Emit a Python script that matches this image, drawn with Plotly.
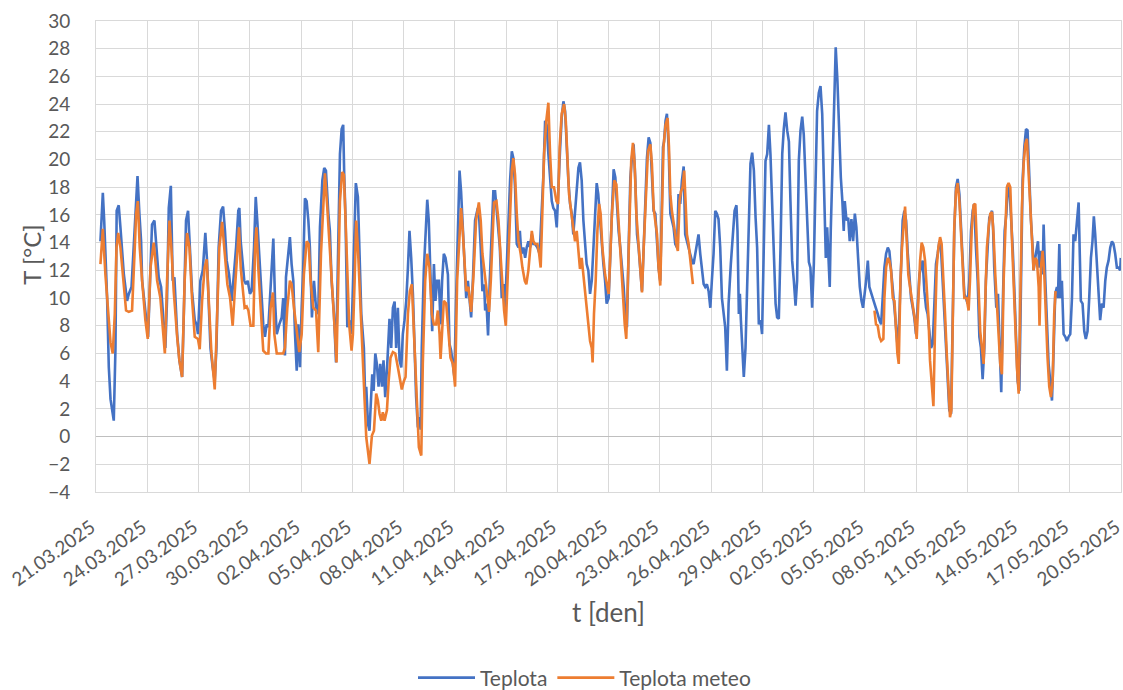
import pandas as pd
import plotly.graph_objects as go

START = pd.Timestamp("2025-03-21")
END = pd.Timestamp("2025-05-20")

# Measured air temperature: time in days since 21.03.2025 00:00, value in °C
t_teplota = [
    0.26, 0.40, 0.48, 0.65, 0.75, 0.85, 1.04, 1.14, 1.21, 1.33, 1.43, 1.63, 1.82, 1.92, 2.08, 2.21,
    2.31, 2.43, 2.54, 2.64, 2.70, 2.86, 2.93, 3.05, 3.19, 3.28, 3.42, 3.54, 3.67, 3.81, 3.97, 4.06,
    4.16, 4.26, 4.38, 4.49, 4.59, 4.75, 4.88, 5.04, 5.14, 5.27, 5.39, 5.49, 5.62, 5.78, 5.88, 5.97,
    6.11, 6.25, 6.40, 6.50, 6.60, 6.70, 6.83, 6.95, 7.05, 7.18, 7.32, 7.44, 7.55, 7.65, 7.79, 7.94,
    8.04, 8.20, 8.33, 8.39, 8.47, 8.59, 8.68, 8.78, 8.88, 9.01, 9.11, 9.25, 9.35, 9.44, 9.56, 9.70,
    9.79, 9.89, 9.99, 10.09, 10.19, 10.28, 10.38, 10.48, 10.58, 10.73, 10.87, 10.96, 11.06, 11.12,
    11.26, 11.35, 11.45, 11.55, 11.65, 11.75, 11.84, 11.94, 12.04, 12.13, 12.23, 12.33, 12.43, 12.52,
    12.64, 12.76, 12.88, 13.01, 13.11, 13.25, 13.36, 13.46, 13.60, 13.69, 13.79, 13.93, 14.05, 14.18,
    14.28, 14.38, 14.47, 14.53, 14.61, 14.71, 14.82, 14.96, 15.04, 15.14, 15.21, 15.33, 15.43, 15.53,
    15.68, 15.76, 15.82, 15.92, 16.01, 16.11, 16.17, 16.25, 16.35, 16.44, 16.54, 16.64, 16.74, 16.83,
    16.93, 17.05, 17.18, 17.28, 17.38, 17.48, 17.57, 17.67, 17.77, 17.87, 17.96, 18.06, 18.16, 18.26,
    18.35, 18.45, 18.55, 18.65, 18.74, 18.84, 18.94, 19.00, 19.07, 19.19, 19.29, 19.39, 19.48, 19.58,
    19.68, 19.78, 19.87, 19.97, 20.07, 20.17, 20.26, 20.36, 20.46, 20.60, 20.69, 20.79, 20.89, 20.98,
    21.08, 21.18, 21.28, 21.37, 21.47, 21.57, 21.67, 21.77, 21.86, 21.96, 22.06, 22.19, 22.35, 22.43,
    22.52, 22.62, 22.72, 22.78, 22.86, 22.95, 23.05, 23.17, 23.26, 23.36, 23.46, 23.54, 23.64, 23.75,
    23.85, 23.95, 24.04, 24.14, 24.24, 24.34, 24.43, 24.53, 24.63, 24.73, 24.81, 24.90, 25.02, 25.12,
    25.21, 25.31, 25.41, 25.51, 25.60, 25.70, 25.84, 25.97, 26.09, 26.19, 26.29, 26.38, 26.48, 26.58,
    26.68, 26.77, 26.87, 26.97, 27.07, 27.16, 27.26, 27.36, 27.46, 27.55, 27.65, 27.75, 27.85, 27.94,
    28.04, 28.14, 28.24, 28.33, 28.43, 28.53, 28.63, 28.72, 28.82, 28.92, 29.02, 29.11, 29.21, 29.31,
    29.40, 29.50, 29.60, 29.70, 29.80, 29.89, 30.01, 30.11, 30.20, 30.30, 30.40, 30.50, 30.59, 30.69,
    30.79, 30.89, 30.98, 31.08, 31.18, 31.28, 31.37, 31.47, 31.57, 31.67, 31.76, 31.86, 31.96, 32.06,
    32.15, 32.25, 32.35, 32.45, 32.54, 32.64, 32.74, 32.84, 32.93, 33.03, 33.13, 33.19, 33.25, 33.34,
    33.42, 33.52, 33.62, 33.71, 33.81, 33.91, 34.01, 34.10, 34.20, 34.30, 34.40, 34.49, 34.59, 34.69,
    34.79, 34.88, 34.98, 35.08, 35.18, 35.27, 35.37, 35.47, 35.57, 35.66, 35.76, 35.86, 35.96, 36.05,
    36.15, 36.25, 36.34, 36.44, 36.54, 36.64, 36.74, 36.83, 36.93, 37.03, 37.16, 37.28, 37.38, 37.49,
    37.55, 37.63, 37.69, 37.75, 37.83, 37.92, 38.02, 38.12, 38.22, 38.31, 38.41, 38.51, 38.61, 38.70,
    38.80, 38.90, 38.99, 39.09, 39.19, 39.29, 39.39, 39.48, 39.58, 39.68, 39.78, 39.87, 39.97, 40.07,
    40.17, 40.26, 40.36, 40.46, 40.56, 40.65, 40.75, 40.85, 40.95, 41.04, 41.14, 41.24, 41.34, 41.43,
    41.53, 41.63, 41.73, 41.82, 41.92, 42.02, 42.12, 42.21, 42.31, 42.41, 42.51, 42.60, 42.66, 42.72,
    42.80, 42.86, 42.95, 43.01, 43.11, 43.21, 43.30, 43.40, 43.50, 43.60, 43.69, 43.77, 43.83, 43.93,
    44.03, 44.12, 44.22, 44.32, 44.42, 44.51, 44.61, 44.71, 44.81, 44.90, 45.08, 45.18, 45.27, 45.37,
    45.47, 45.57, 45.66, 45.76, 45.86, 45.96, 46.05, 46.15, 46.25, 46.35, 46.44, 46.54, 46.64, 46.74,
    46.83, 46.93, 47.03, 47.13, 47.22, 47.32, 47.42, 47.52, 47.61, 47.71, 47.81, 47.90, 48.00, 48.10,
    48.20, 48.29, 48.39, 48.49, 48.59, 48.68, 48.78, 48.88, 48.98, 49.07, 49.17, 49.27, 49.37, 49.46,
    49.56, 49.66, 49.76, 49.85, 49.95, 50.05, 50.15, 50.24, 50.34, 50.44, 50.54, 50.63, 50.73, 50.83,
    50.93, 51.02, 51.12, 51.22, 51.32, 51.41, 51.51, 51.61, 51.71, 51.80, 51.90, 52.00, 52.09, 52.19,
    52.29, 52.39, 52.45, 52.51, 52.58, 52.70, 52.80, 52.90, 52.99, 53.09, 53.19, 53.29, 53.38, 53.48,
    53.56, 53.66, 53.75, 53.85, 53.95, 54.05, 54.14, 54.24, 54.34, 54.44, 54.53, 54.63, 54.73, 54.83,
    54.88, 54.98, 55.08, 55.14, 55.22, 55.31, 55.41, 55.47, 55.57, 55.66, 55.76, 55.86, 55.96, 56.05,
    56.15, 56.25, 56.31, 56.39, 56.46, 56.54, 56.64, 56.74, 56.83, 56.93, 57.03, 57.13, 57.22, 57.32,
    57.42, 57.52, 57.57, 57.65, 57.75, 57.85, 57.94, 58.04, 58.14, 58.24, 58.33, 58.41, 58.49, 58.59,
    58.69, 58.78, 58.88, 58.98, 59.08, 59.17, 59.27, 59.37, 59.47, 59.56, 59.66, 59.76, 59.86, 59.95,
    59.99,
]
teplota = [
    14.1, 17.6, 15.6, 10.0, 5.0, 2.7, 1.15, 6.4, 16.3, 16.7, 15.1, 11.7, 9.8, 10.3, 10.8, 13.7,
    16.5, 18.8, 16.1, 14.1, 11.25, 9.3, 8.85, 7.2, 12.2, 15.3, 15.6, 13.65, 11.5, 10.8, 8.4, 6.4,
    10.0, 16.5, 18.1, 11.25, 11.5, 7.4, 5.5, 4.3, 8.85, 15.6, 16.3, 13.65, 10.5, 8.4, 8.1, 7.4,
    11.25, 12.0, 14.7, 12.7, 8.85, 6.4, 5.0, 4.0, 6.4, 13.65, 16.3, 16.6, 14.85, 12.7, 11.7, 9.8,
    11.25, 13.65, 16.3, 16.5, 14.1, 12.2, 11.25, 11.0, 11.25, 10.3, 10.5, 13.65, 17.3, 15.6, 12.7, 9.6,
    8.1, 7.2, 8.1, 7.9, 10.3, 11.7, 14.3, 9.8, 7.4, 8.1, 8.6, 10.0, 5.85, 11.5,
    13.2, 14.4, 12.45, 11.25, 7.4, 4.75, 8.1, 5.0, 9.3, 12.2, 17.2, 17.0, 15.6, 13.65,
    8.6, 11.25, 9.3, 8.85, 15.1, 18.5, 19.4, 19.2, 16.1, 14.85, 11.25, 8.85, 5.35, 14.6,
    20.4, 22.2, 22.5, 18.9, 15.6, 7.9, 8.4, 7.4, 11.25, 16.1, 18.3, 17.3, 12.7, 8.85,
    6.4, 2.6, 3.6, 0.9, 0.43, 3.3, 4.5, 3.3, 6.0, 5.25, 3.6, 5.25, 3.6, 5.5,
    2.85, 5.25, 8.5, 6.4, 9.3, 9.75, 6.4, 9.3, 5.5, 5.0, 7.4, 8.4, 9.8, 12.2,
    14.85, 12.9, 10.3, 6.4, 2.85, 0.67, 1.4, 0.5, 6.4, 12.0, 15.1, 17.1, 15.6, 11.25,
    7.6, 12.45, 9.8, 11.25, 11.25, 8.1, 11.25, 13.2, 12.9, 11.7, 6.7, 6.2, 5.25, 4.3,
    10.0, 15.6, 19.2, 17.7, 14.85, 11.7, 10.0, 11.25, 9.8, 8.6, 11.25, 15.6, 16.5, 15.8,
    13.65, 10.5, 11.0, 9.1, 9.6, 7.3, 11.25, 14.85, 17.7, 17.7, 16.1, 14.6, 13.65, 10.0,
    11.0, 9.3, 12.2, 16.1, 18.5, 20.6, 20.1, 18.0, 13.9, 13.65, 14.85, 13.2, 13.65, 12.9,
    13.65, 14.1, 13.65, 14.6, 13.9, 13.9, 13.65, 13.2, 16.1, 18.9, 22.8, 22.5, 20.4, 18.5,
    17.0, 16.5, 16.3, 15.1, 18.5, 20.6, 23.0, 24.2, 23.5, 20.9, 18.5, 16.8, 16.1, 14.6,
    16.1, 17.5, 19.4, 19.8, 18.5, 15.6, 13.65, 12.45, 12.0, 10.3, 11.25, 13.65, 16.1, 18.3,
    17.5, 15.6, 13.65, 12.45, 11.25, 9.6, 10.0, 13.65, 17.0, 19.3, 18.7, 16.1, 14.85, 13.65,
    12.2, 10.8, 8.85, 7.9, 13.65, 18.7, 20.1, 21.1, 18.5, 14.6, 13.65, 12.0, 10.5, 13.65,
    17.25, 20.1, 21.6, 21.2, 18.9, 16.3, 16.1, 13.65, 12.2, 11.25, 16.1, 20.9, 21.3, 22.8,
    23.3, 20.9, 16.1, 15.6, 15.1, 13.9, 13.65, 17.5, 16.8, 18.5, 19.5, 14.6, 14.1, 13.65,
    13.2, 12.7, 12.45, 13.2, 14.0, 14.6, 13.2, 12.2, 11.0, 10.8, 11.0, 10.5, 9.3, 11.25,
    13.2, 16.3, 16.1, 15.7, 13.65, 10.0, 8.6, 7.9, 4.75, 9.6, 12.45, 14.6, 16.3, 16.7,
    14.85, 8.85, 10.3, 8.4, 6.4, 4.3, 6.4, 11.25, 16.1, 19.7, 20.5, 19.2, 15.8, 13.65,
    8.1, 8.4, 7.4, 13.65, 19.9, 20.4, 22.5, 20.4, 16.5, 13.65, 9.6, 8.6, 8.5, 13.65,
    20.4, 22.2, 23.4, 22.1, 21.3, 17.0, 12.7, 11.25, 9.45, 11.25, 19.9, 22.1, 23.1, 21.8,
    18.5, 16.1, 12.6, 12.2, 9.3, 12.45, 18.5, 23.5, 24.8, 25.3, 23.3, 19.5, 17.0, 12.9,
    15.1, 13.65, 10.8, 14.85, 19.7, 24.5, 28.1, 25.7, 21.3, 18.7, 17.0, 14.85, 17.0, 15.6,
    15.8, 14.1, 15.7, 14.1, 16.1, 15.1, 12.9, 10.8, 9.8, 9.3, 11.25, 12.7, 10.8, 10.3,
    10.0, 9.6, 9.3, 8.85, 8.4, 8.1, 10.0, 12.2, 13.2, 13.65, 13.4, 12.2, 10.8, 9.3,
    7.9, 6.4, 8.85, 12.45, 15.6, 16.3, 15.6, 13.2, 11.25, 10.0, 9.3, 8.6, 7.4, 9.6,
    11.7, 12.2, 12.7, 10.5, 9.3, 8.85, 7.4, 6.4, 6.7, 10.0, 12.45, 13.2, 14.1, 13.65,
    11.25, 8.85, 6.4, 4.0, 1.9, 1.63, 8.85, 14.85, 18.0, 18.6, 17.5, 15.1, 12.2, 10.3,
    10.0, 9.6, 11.25, 14.85, 16.3, 16.8, 13.65, 11.25, 7.2, 6.4, 4.15, 6.4, 11.25, 14.1,
    15.8, 16.1, 16.3, 15.1, 12.2, 9.3, 10.3, 6.4, 3.2, 10.0, 14.85, 16.1, 18.2, 17.7,
    16.1, 13.65, 10.8, 7.6, 4.0, 3.3, 11.25, 18.5, 20.9, 22.2, 22.1, 18.5, 15.6, 13.65,
    12.0, 12.9, 13.9, 14.1, 12.2, 13.4, 11.7, 15.3, 11.25, 7.6, 5.25, 4.0, 2.6, 6.0,
    10.3, 10.8, 10.0, 13.9, 10.0, 11.25, 7.4, 7.2, 6.9, 7.2, 7.4, 10.0, 14.6, 14.1,
    15.6, 16.9, 14.1, 9.8, 9.6, 7.6, 7.05, 7.6, 10.0, 12.9, 14.1, 15.9, 14.6, 12.45,
    9.6, 8.4, 9.6, 9.3, 11.25, 12.2, 12.7, 13.65, 14.1, 13.9, 13.2, 12.2, 12.2, 12.0,
    12.9,
]

# Weather-station temperature (no readings between 25.04 and 06.05)
t_meteo = [
    0.26, 0.40, 0.55, 0.71, 0.85, 0.98, 1.10, 1.20, 1.30, 1.43, 1.63, 1.76, 1.92, 2.11, 2.27, 2.35,
    2.45, 2.56, 2.70, 2.89, 3.03, 3.19, 3.38, 3.58, 3.77, 3.91, 4.03, 4.16, 4.30, 4.41, 4.55, 4.75,
    4.88, 5.04, 5.19, 5.33, 5.47, 5.62, 5.78, 5.97, 6.07, 6.21, 6.36, 6.48, 6.60, 6.75, 6.95, 7.09,
    7.22, 7.38, 7.55, 7.69, 7.85, 8.00, 8.14, 8.27, 8.37, 8.47, 8.59, 8.70, 8.82, 8.92, 9.05, 9.21,
    9.31, 9.39, 9.50, 9.64, 9.79, 9.95, 10.09, 10.22, 10.36, 10.44, 10.58, 10.77, 10.96, 11.06,
    11.20, 11.35, 11.45, 11.59, 11.75, 11.90, 12.04, 12.17, 12.33, 12.45, 12.56, 12.72, 12.88,
    13.01, 13.17, 13.30, 13.40, 13.54, 13.69, 13.85, 13.99, 14.08, 14.18, 14.28, 14.41, 14.51,
    14.61, 14.71, 14.82, 14.96, 15.04, 15.14, 15.23, 15.33, 15.49, 15.62, 15.82, 16.01, 16.15,
    16.27, 16.40, 16.50, 16.60, 16.70, 16.79, 16.89, 17.03, 17.13, 17.24, 17.38, 17.52, 17.67,
    17.83, 17.90, 18.02, 18.12, 18.26, 18.37, 18.49, 18.61, 18.74, 18.90, 19.04, 19.13, 19.27,
    19.39, 19.52, 19.66, 19.78, 19.91, 20.01, 20.11, 20.17, 20.24, 20.36, 20.50, 20.63, 20.75,
    20.89, 21.02, 21.14, 21.28, 21.37, 21.47, 21.57, 21.67, 21.80, 21.96, 22.10, 22.25, 22.41,
    22.52, 22.62, 22.76, 22.88, 23.01, 23.11, 23.21, 23.30, 23.44, 23.56, 23.69, 23.79, 23.89,
    23.99, 24.08, 24.22, 24.34, 24.43, 24.53, 24.63, 24.73, 24.86, 24.96, 25.10, 25.19, 25.31,
    25.41, 25.51, 25.60, 25.70, 25.84, 25.94, 26.03, 26.13, 26.23, 26.36, 26.48, 26.58, 26.68,
    26.81, 26.95, 27.05, 27.14, 27.26, 27.40, 27.50, 27.59, 27.69, 27.83, 27.94, 28.04, 28.14,
    28.24, 28.33, 28.43, 28.53, 28.63, 28.72, 28.82, 28.92, 29.02, 29.07, 29.15, 29.25, 29.35,
    29.45, 29.54, 29.64, 29.80, 29.93, 30.01, 30.11, 30.20, 30.34, 30.46, 30.56, 30.65, 30.75,
    30.85, 30.95, 31.04, 31.14, 31.24, 31.33, 31.43, 31.53, 31.63, 31.76, 31.86, 31.96, 32.06,
    32.19, 32.31, 32.45, 32.54, 32.64, 32.74, 32.84, 32.93, 33.03, 33.13, 33.22, 33.34, 33.46,
    33.54, 33.62, 33.71, 33.81, 33.91, 34.01, 34.06, 34.16, 34.24, 34.34, 34.43, 34.51, 34.59,
    34.69, 34.79, 34.88, 34.94,
    40.00,
    45.57, 45.66, 45.76, 45.86, 45.96, 46.09, 46.15, 46.25, 46.35, 46.44, 46.54, 46.64, 46.74,
    46.83, 46.91, 46.99, 47.09, 47.18, 47.28, 47.36, 47.46, 47.55, 47.65, 47.75, 47.85, 47.94,
    48.04, 48.14, 48.24, 48.33, 48.43, 48.53, 48.63, 48.72, 48.82, 48.92, 49.02, 49.11, 49.21,
    49.31, 49.41, 49.50, 49.60, 49.70, 49.80, 49.89, 49.99, 50.07, 50.15, 50.24, 50.34, 50.44,
    50.54, 50.63, 50.73, 50.83, 50.96, 51.08, 51.16, 51.26, 51.37, 51.47, 51.57, 51.67, 51.76,
    51.86, 51.96, 52.06, 52.15, 52.25, 52.35, 52.45, 52.54, 52.64, 52.74, 52.84, 52.93, 53.03,
    53.13, 53.23, 53.32, 53.42, 53.52, 53.62, 53.71, 53.81, 53.91, 54.01, 54.10, 54.20, 54.30,
    54.40, 54.49, 54.59, 54.69, 54.79, 54.88, 54.98, 55.08, 55.18, 55.23, 55.31, 55.41, 55.51,
    55.61, 55.70, 55.80, 55.90, 56.00, 56.09, 56.17,
]
teplota_meteo = [
    12.45, 15.0, 11.7, 9.3, 6.8, 6.0, 8.85, 13.65, 14.7, 13.65, 11.0, 9.1, 9.0, 9.1, 13.65, 16.1,
    17.0, 13.65, 11.25, 8.4, 7.05, 12.2, 14.0, 11.25, 10.0, 8.1, 6.0, 11.25, 15.6, 13.65, 10.5, 7.2,
    5.5, 4.3, 11.25, 14.7, 13.65, 10.0, 7.2, 7.05, 6.3, 9.8, 12.2, 12.8, 9.3, 6.2, 3.4, 8.85,
    13.65, 15.5, 12.7, 11.0, 10.0, 8.0, 10.8, 13.65, 15.1, 12.2, 10.5, 9.3, 9.4, 9.1, 8.0, 8.0,
    13.65, 15.1, 12.2, 8.85, 6.2, 6.0, 6.0, 9.3, 10.4, 7.4, 6.0, 6.0, 6.0, 6.4,
    9.3, 11.25, 11.0, 9.3, 7.4, 6.1, 7.4, 11.7, 14.1, 13.9, 11.25, 9.3, 9.1,
    6.1, 13.2, 17.0, 19.0, 16.5, 13.65, 10.3, 7.4, 5.35, 11.7, 17.0, 19.1, 18.9,
    15.6, 11.25, 8.1, 6.2, 7.4, 11.25, 15.6, 13.65, 8.85, 5.25, -0.05, -1.97, 0.07,
    0.43, 3.1, 2.6, 1.63, 1.15, 1.75, 1.15, 1.9, 4.0, 5.7, 6.1, 6.0, 5.0,
    4.0, 3.4, 4.0, 4.3, 8.85, 10.5, 11.0, 7.6, 4.0, -0.77, -1.37, 5.25, 11.25,
    13.2, 12.2, 8.85, 8.1, 8.1, 9.1, 7.4, 5.6, 7.6, 9.8, 9.6, 7.4, 5.7,
    5.25, 3.6, 11.25, 14.85, 16.5, 14.85, 12.45, 10.5, 10.8, 9.0, 11.7, 15.6, 16.9,
    15.6, 13.2, 11.7, 10.3, 9.0, 11.25, 15.1, 16.9, 17.0, 15.6, 12.9, 10.5, 9.1,
    8.0, 11.25, 16.1, 19.2, 20.1, 18.9, 16.1, 14.1, 13.2, 12.2, 11.25, 11.0, 12.0,
    13.65, 14.85, 14.1, 13.9, 13.9, 13.2, 12.2, 16.1, 20.4, 22.8, 24.1, 20.4, 18.0,
    18.0, 17.0, 16.8, 20.9, 23.3, 24.0, 22.8, 19.7, 17.5, 16.1, 15.1, 14.1, 14.85,
    13.65, 12.1, 12.9, 11.7, 10.5, 9.1, 7.9, 6.9, 6.4, 5.35, 8.85, 11.25, 14.85,
    16.8, 16.1, 13.65, 11.7, 10.8, 10.3, 13.2, 16.1, 18.5, 18.2, 16.1, 14.1, 12.2,
    10.3, 8.1, 7.05, 11.25, 17.0, 19.9, 21.2, 19.7, 16.1, 13.65, 12.0, 10.4, 13.65,
    17.7, 20.6, 21.1, 19.7, 16.5, 15.6, 14.6, 12.2, 10.9, 16.1, 20.9, 22.5, 23.0,
    20.9, 17.5, 16.3, 15.6, 14.6, 13.65, 13.4, 17.0, 17.7, 18.0, 19.2, 17.0, 14.6,
    13.9, 12.7, 11.7, 11.0,
    None,
    9.1, 8.1, 8.0, 7.2, 6.9, 7.05, 10.0, 12.2, 12.9, 12.7, 12.0, 10.0, 9.8,
    7.6, 6.0, 5.25, 11.25, 13.65, 15.6, 16.6, 14.1, 11.7, 10.8, 10.0, 9.3, 8.4,
    7.05, 10.0, 12.7, 14.0, 13.65, 12.7, 11.0, 8.85, 5.5, 4.0, 2.2, 7.6, 12.2,
    13.65, 14.4, 13.9, 11.7, 8.85, 6.0, 3.3, 1.4, 1.9, 7.6, 15.1, 17.7, 18.3,
    17.0, 14.6, 11.7, 10.0, 10.0, 9.1, 11.25, 14.85, 16.7, 16.8, 13.65, 10.0, 7.6,
    6.4, 5.25, 10.0, 13.65, 15.1, 16.1, 16.2, 14.6, 11.7, 9.3, 7.4, 5.25, 4.5,
    11.25, 14.85, 18.0, 18.3, 18.0, 14.1, 11.25, 7.2, 5.0, 3.1, 8.85, 16.5, 19.7,
    21.1, 21.5, 19.2, 16.1, 13.65, 12.0, 12.9, 12.7, 10.8, 8.0, 12.2, 13.4, 11.7,
    7.9, 5.7, 3.6, 2.85, 4.0, 8.85, 10.5,
]


def to_time(days):
    return [START + pd.Timedelta(days=d) for d in days]


GRID = "#D9D9D9"
TEXT = "#595959"
FONT = "Lato, 'Open Sans', sans-serif"

fig = go.Figure()
fig.add_trace(go.Scatter(
    x=to_time(t_teplota), y=teplota, name="Teplota", mode="lines",
    line=dict(color="#4472C4", width=2.6),
))
fig.add_trace(go.Scatter(
    x=to_time(t_meteo), y=teplota_meteo, name="Teplota meteo", mode="lines",
    line=dict(color="#ED7D31", width=2.6), connectgaps=False,
))

fig.update_layout(
    width=1123, height=690,
    margin=dict(l=96, r=2, t=21, b=198, autoexpand=False),
    paper_bgcolor="white", plot_bgcolor="white",
    font=dict(family=FONT, color=TEXT, size=19),
    showlegend=True,
    legend=dict(
        orientation="h", xref="container", x=413 / 1123, xanchor="left",
        yref="container", y=(690 - 678) / 690, yanchor="middle",
        font=dict(size=21, color=TEXT), itemwidth=57, traceorder="normal",
    ),
    xaxis=dict(
        type="date", range=[START, END], automargin=False,
        tick0=START, dtick=3 * 24 * 3600 * 1000, tickformat="%d.%m.%Y",
        tickangle=-36, ticks="", showgrid=True, gridcolor=GRID, gridwidth=1,
        showline=True, linecolor=GRID, linewidth=1, mirror=True,
        zeroline=False, tickfont=dict(size=19, color=TEXT),
        ticklabelstandoff=16, ticklabelshift=-5, ticklabeloverflow="allow",
    ),
    yaxis=dict(
        range=[-4, 30], tick0=0, dtick=2, ticks="", showgrid=True, automargin=False,
        gridcolor=GRID, gridwidth=1, zeroline=True, zerolinecolor="#BFBFBF",
        zerolinewidth=1, showline=True, linecolor=GRID, linewidth=1, mirror=True,
        tickfont=dict(size=19, color=TEXT), ticklabelstandoff=21,
    ),
    annotations=[
        dict(text="t [den]", x=0.5, y=-0.254, xref="paper", yref="paper",
             showarrow=False, font=dict(size=26, color=TEXT),
             xanchor="center", yanchor="middle"),
        dict(text="T [°C]", x=-0.0638, y=0.503, xref="paper", yref="paper",
             showarrow=False, textangle=-90, font=dict(size=24, color=TEXT),
             xanchor="center", yanchor="middle"),
    ],
)

fig.write_html("out.html")
